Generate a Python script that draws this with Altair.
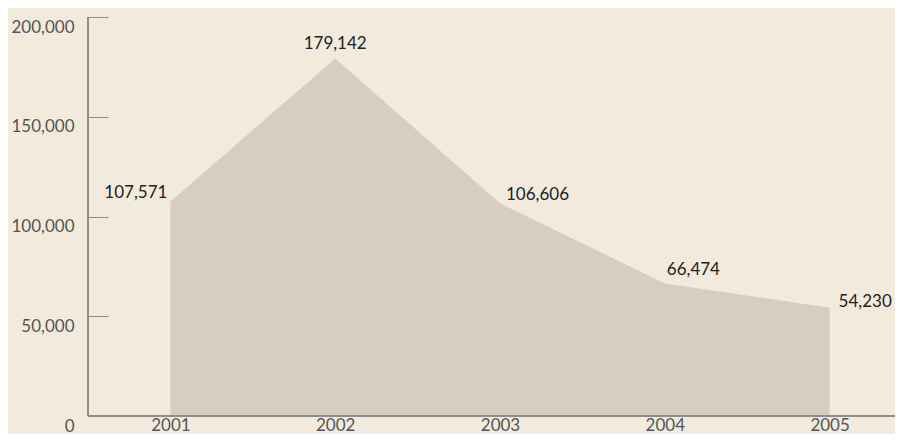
import altair as alt
import pandas as pd

years = ["2001", "2002", "2003", "2004", "2005"]
values = [107571, 179142, 106606, 66474, 54230]
y_ticks = [0, 50000, 100000, 150000, 200000]

df = pd.DataFrame({"year": years, "value": values})

BG = "#f2eadd"
FILL = "#d7cec0"
AXIS = "#8c8c8c"
FONT = "Lato"
H = 399

x_scale = alt.Scale(type="band", paddingInner=0, paddingOuter=0, range=[0, 824])
x_axis = alt.Axis(title=None, domain=False, tickBand="extent", tickSize=10, offset=-10,
                  tickColor=AXIS, labelPadding=1, labelFontSize=17, labelColor="#555555",
                  labelFont=FONT, labelAngle=0)
y_scale = alt.Scale(domain=[0, 200000], nice=False, zero=True)
y_axis = alt.Axis(title=None, domain=False, values=y_ticks, format=",.0f", tickSize=20,
                  offset=-20, tickColor=AXIS, labelPadding=14, labelFontSize=17,
                  labelColor="#555555", labelFont=FONT, labelOffset=10, grid=False)

x_enc = alt.X("year:N", bandPosition=0.5, scale=x_scale, axis=x_axis)
y_enc = alt.Y("value:Q", scale=y_scale, axis=y_axis)

base = alt.Chart(df)

area = base.mark_area(color=FILL, opacity=1).encode(x=x_enc, y=y_enc)

yline = base.mark_rule(color=AXIS, strokeWidth=1.2).encode(
    x=alt.value(0), y=alt.Y(datum=200000, scale=y_scale, axis=y_axis), y2=alt.Y2(datum=0))
xline = base.mark_rule(color=AXIS, strokeWidth=1.2).encode(
    x=alt.value(0), x2=alt.value(824), y=alt.Y(datum=0, scale=y_scale, axis=y_axis))

def label(year, align, dx, dy):
    return base.transform_filter(alt.datum.year == year).mark_text(
        align=align, baseline="middle", dx=dx, dy=dy, fontSize=17, font=FONT, color="#222222"
    ).encode(x=x_enc, y=y_enc, text=alt.Text("value:Q", format=","))

labels = [
    label("2001", "right", -3, -8),
    label("2002", "center", 0, -15),
    label("2003", "left", 6, -8),
    label("2004", "left", 2, -13),
    label("2005", "left", 9, -6),
]

chart = alt.layer(area, yline, xline, *labels).properties(
    width=807, height=H, background=BG,
    autosize=alt.AutoSizeParams(type="none"),
    padding={"left": 80, "top": 9, "right": 0, "bottom": 18},
).configure_view(stroke=None)

chart.save("out.html", embed_options={"renderer": "svg", "actions": False})
